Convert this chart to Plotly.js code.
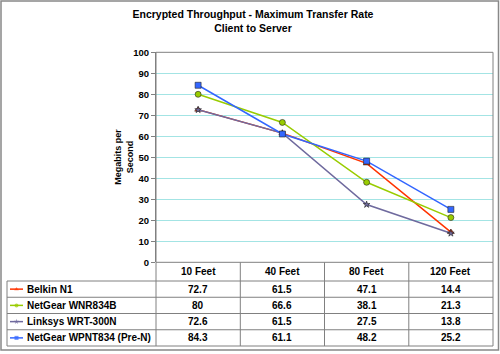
<!DOCTYPE html>
<html>
<head>
<meta charset="utf-8">
<script src="https://cdn.plot.ly/plotly-3.0.1.min.js"></script>
<style>html,body{margin:0;padding:0;background:#fff;}#chart{width:500px;height:354px;}</style>
</head>
<body>
<div id="chart"></div>
<script>
// ---- data ----
var categories = ["10 Feet", "40 Feet", "80 Feet", "120 Feet"];
var seriesNames = ["Belkin N1", "NetGear WNR834B", "Linksys WRT-300N", "NetGear WPNT834 (Pre-N)"];
var belkin   = [72.7, 61.5, 47.1, 14.4];
var netgearB = [80, 66.6, 38.1, 21.3];
var linksys  = [72.6, 61.5, 27.5, 13.8];
var netgearP = [84.3, 61.1, 48.2, 25.2];
var yTicks = [0, 10, 20, 30, 40, 50, 60, 70, 80, 90, 100];

// ---- style ----
var seriesValues = [belkin, netgearB, linksys, netgearP];
var colors = ["#ff3300", "#99cc00", "#6f6a9e", "#3366ff"];
var symbols = ["triangle-up", "circle", "star", "square"];
var msizes = [6, 6, 5, 6];
var FONT = "Liberation Sans, Arial, sans-serif";
var W = 500, H = 354;
var plotL = 156, plotR = 493, plotT = 52.3, plotB = 262.3;
var tabL = 7, headB = 281, tabB = 346;
var rowH = (tabB - headB) / seriesNames.length;
var colX = [156, 240.3, 324.5, 408.8, 493];
var gridGrey = "#808080";

var traces = [];
seriesValues.forEach(function (vals, i) {
  traces.push({
    type: "scatter", mode: "lines+markers", name: seriesNames[i],
    x: categories.map(function (c, k) { return k; }), y: vals,
    xaxis: "x", yaxis: "y",
    line: {color: colors[i], width: 1.5},
    marker: {symbol: symbols[i], size: msizes[i], color: colors[i], line: {color: "#222", width: 0.6}},
    showlegend: false, hoverinfo: "skip"
  });
});
// legend keys inside the table (pixel-space helper axes)
seriesNames.forEach(function (n, i) {
  var yc = headB + rowH * (i + 0.5);
  traces.push({
    type: "scatter", mode: "lines+markers", name: n + " key",
    x: [10, 16.5, 23], y: [yc, yc, yc], xaxis: "x2", yaxis: "y2",
    line: {color: colors[i], width: 1.5},
    marker: {symbol: symbols[i], size: [0, 4, 0], color: colors[i], line: {width: 0}},
    showlegend: false, hoverinfo: "skip"
  });
});

var shapes = [];
var annotations = [];
// outer border
shapes.push({type: "rect", xref: "x2", yref: "y2", x0: 1, x1: 498.5, y0: 1, y1: 350, line: {color: "#888", width: 1.5}});
// plot area border
shapes.push({type: "rect", xref: "x2", yref: "y2", x0: plotL, x1: plotR, y0: plotT, y1: plotB, line: {color: gridGrey, width: 1}});
// table lines
colX.forEach(function (cx) {
  shapes.push({type: "line", xref: "x2", yref: "y2", x0: cx, x1: cx, y0: plotB, y1: tabB, line: {color: gridGrey, width: 1}});
});
shapes.push({type: "line", xref: "x2", yref: "y2", x0: tabL, x1: tabL, y0: headB, y1: tabB, line: {color: gridGrey, width: 1}});
for (var r = 0; r <= seriesNames.length; r++) {
  var yy = headB + rowH * r;
  shapes.push({type: "line", xref: "x2", yref: "y2", x0: tabL, x1: plotR, y0: yy, y1: yy, line: {color: gridGrey, width: 1}});
}
var tf = {family: FONT, size: 10, color: "#000", weight: "bold"};
// header
categories.forEach(function (c, k) {
  annotations.push({xref: "x", yref: "y2", x: k, y: (plotB + headB) / 2, text: c, showarrow: false, font: tf, xanchor: "center", yanchor: "middle"});
});
// rows
seriesNames.forEach(function (n, i) {
  var yc = headB + rowH * (i + 0.5);
  annotations.push({xref: "x2", yref: "y2", x: 25, y: yc, text: n, showarrow: false, font: tf, xanchor: "left", yanchor: "middle"});
  seriesValues[i].forEach(function (v, k) {
    annotations.push({xref: "x", yref: "y2", x: k, y: yc, text: String(v), showarrow: false, font: tf, xanchor: "center", yanchor: "middle"});
  });
});
// y axis title
annotations.push({xref: "x2", yref: "y2", x: 124.5, y: (plotT + plotB) / 2, text: "Megabits per<br>Second", textangle: -90,
  showarrow: false, font: {family: FONT, size: 9, color: "#000", weight: "bold"}, xanchor: "center", yanchor: "middle"});

var layout = {
  width: W, height: H,
  margin: {l: 0, r: 0, t: 0, b: 0},
  paper_bgcolor: "#ffffff", plot_bgcolor: "rgba(0,0,0,0)",
  showlegend: false,
  title: {text: "Encrypted Throughput - Maximum Transfer Rate<br>Client to Server",
          font: {family: FONT, size: 10.5, color: "#000", weight: "bold"},
          x: 253 / W, xanchor: "center", xref: "paper", y: 1 - 18 / H, yanchor: "middle", yref: "container"},
  xaxis: {domain: [plotL / W, plotR / W], range: [-0.5, categories.length - 0.5], showgrid: false, zeroline: false,
          showline: false, showticklabels: false, ticks: "", fixedrange: true},
  yaxis: {domain: [1 - plotB / H, 1 - plotT / H], range: [0, 100], tickvals: yTicks, showgrid: true,
          gridcolor: "#a3e4e4", gridwidth: 1.5, zeroline: false, showline: true, linecolor: gridGrey, linewidth: 1,
          ticks: "outside", ticklen: 4, tickcolor: gridGrey, tickfont: {family: FONT, size: 9.5, color: "#000", weight: "bold"},
          fixedrange: true},
  xaxis2: {domain: [0, 1], range: [0, W], visible: false, fixedrange: true},
  yaxis2: {domain: [0, 1], range: [H, 0], visible: false, fixedrange: true},
  shapes: shapes,
  annotations: annotations
};

Plotly.newPlot("chart", traces, layout, {staticPlot: true, displayModeBar: false});
</script>
</body>
</html>
